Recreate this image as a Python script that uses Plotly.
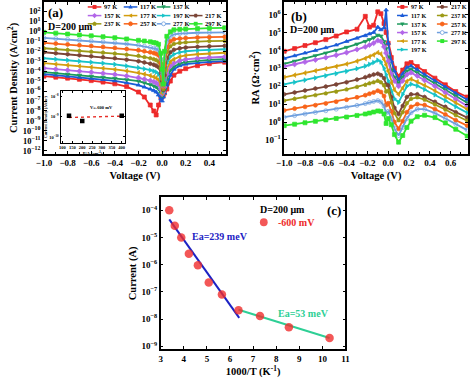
import plotly.graph_objects as go

W, H = 474, 379
FONT = "Liberation Serif"

# ---------------- data ----------------
temps = ["97 K", "117 K", "137 K", "157 K", "177 K", "197 K",
         "217 K", "237 K", "257 K", "277 K", "297 K"]
colors = ["#ee2a2a", "#1a5bd8", "#1d9a5c", "#b266e8", "#d39d0e", "#17c3c8",
          "#7b4537", "#9c9a16", "#f8641a", "#6e9fde", "#2fe62f"]
symbols = ["square", "triangle-up", "triangle-down", "diamond", "triangle-left",
           "triangle-right", "hexagon", "pentagon", "circle", "circle-open", "square"]

# (a) current density vs voltage, log10(J [A/cm2])
volt_a = [-1.0, -0.9, -0.8, -0.7, -0.6, -0.5, -0.4, -0.3, -0.2, -0.15, -0.1, -0.07, -0.05,
          -0.03, -0.01, 0.0, 0.01, 0.02, 0.04, 0.07, 0.1, 0.15, 0.2, 0.3, 0.4, 0.53]
logj_97 = [-4.50, -4.60, -4.70, -4.82, -4.95, -5.10, -5.27, -5.55, -6.10, -6.60, -7.40, -8.00, -8.40,
           -7.40, -6.6, -6.6, -6.4, -6.2, -5.8, -5.0, -4.40, -4.00, -3.75, -3.45, -3.25, -3.10]
logj_117 = [-4.30, -4.40, -4.50, -4.61, -4.72, -4.84, -4.97, -5.17, -5.40, -5.60, -5.80, -5.95, -6.10,
            -6.40, -6.8, -7.0, -6.6, -6.2, -5.4, -4.4, -3.80, -3.45, -3.30, -3.15, -3.07, -3.00]
logj_137 = [-4.10, -4.20, -4.30, -4.40, -4.50, -4.60, -4.71, -4.85, -5.00, -5.17, -5.35, -5.48, -5.60,
            -5.80, -6.2, -6.5, -6.3, -5.9, -4.8, -3.9, -3.55, -3.25, -3.10, -2.95, -2.87, -2.80]
logj_157 = [-3.70, -3.80, -3.90, -4.00, -4.10, -4.21, -4.33, -4.48, -4.65, -4.80, -4.95, -5.07, -5.18,
            -5.35, -5.8, -6.3, -6.1, -5.6, -4.3, -3.5, -3.20, -2.95, -2.82, -2.70, -2.62, -2.55]
logj_177 = [-3.20, -3.30, -3.40, -3.50, -3.60, -3.71, -3.83, -3.98, -4.15, -4.30, -4.45, -4.57, -4.68,
            -4.85, -5.4, -6.2, -5.9, -5.2, -3.8, -3.05, -2.80, -2.55, -2.42, -2.30, -2.22, -2.15]
logj_197 = [-2.70, -2.80, -2.90, -3.00, -3.10, -3.20, -3.32, -3.48, -3.65, -3.77, -3.90, -4.00, -4.10,
            -4.30, -4.8, -5.4, -6.0, -4.9, -3.2, -2.55, -2.30, -2.10, -2.00, -1.92, -1.86, -1.80]
logj_217 = [-2.10, -2.20, -2.30, -2.40, -2.50, -2.60, -2.70, -2.85, -3.00, -3.12, -3.25, -3.35, -3.45,
            -3.60, -4.2, -5.0, -5.9, -4.4, -2.7, -2.1, -1.85, -1.70, -1.62, -1.55, -1.50, -1.45]
logj_237 = [-1.70, -1.78, -1.86, -1.95, -2.04, -2.13, -2.23, -2.34, -2.45, -2.58, -2.70, -2.80, -2.88,
            -3.05, -3.7, -4.8, -5.8, -3.9, -2.1, -1.5, -1.25, -1.15, -1.10, -1.03, -0.98, -0.95]
logj_257 = [-1.15, -1.23, -1.31, -1.39, -1.47, -1.56, -1.66, -1.78, -1.90, -2.00, -2.10, -2.18, -2.26,
            -2.40, -3.2, -4.5, -5.6, -3.4, -1.6, -1.0, -0.80, -0.72, -0.67, -0.62, -0.58, -0.55]
logj_277 = [-0.65, -0.73, -0.81, -0.89, -0.97, -1.06, -1.15, -1.27, -1.40, -1.50, -1.60, -1.68, -1.75,
            -1.90, -2.8, -4.2, -5.5, -2.8, -1.0, -0.5, -0.30, -0.22, -0.18, -0.14, -0.12, -0.10]
logj_297 = [-0.10, -0.18, -0.27, -0.36, -0.45, -0.54, -0.64, -0.76, -0.90, -0.97, -1.05, -1.12, -1.18,
            -1.30, -2.2, -3.8, -5.3, -2.0, -0.5, -0.05, 0.15, 0.20, 0.24, 0.28, 0.32, 0.35]

# (a) inset: current density at -600 mV vs P/A
inset_pa = [133, 200, 400]
inset_j = [1.1e-9, 6.0e-10, 1.1e-9]
inset_fit_pa = [133, 400]
inset_fit_j = [9.0e-10, 1.05e-9]

# (b) RA vs voltage, log10(RA [Ohm cm2])
volt_b = [-1.0, -0.9, -0.8, -0.7, -0.6, -0.5, -0.4, -0.3, -0.22, -0.18, -0.14, -0.1, -0.07, -0.04,
          -0.02, 0.0, 0.03, 0.06, 0.1, 0.14, 0.18, 0.22, 0.28, 0.35, 0.45, 0.55, 0.65, 0.76]
logra_97 = [3.95, 4.10, 4.27, 4.43, 4.60, 4.80, 5.03, 5.18, 5.90, 5.30, 5.40, 6.15, 6.05, 5.50,
            5.00, 4.40, 3.60, 3.00, 2.55, 2.90, 3.25, 3.32, 3.10, 2.82, 2.45, 2.08, 1.70, 1.40]
logra_117 = [3.55, 3.70, 3.85, 4.00, 4.15, 4.30, 4.50, 4.68, 4.82, 4.92, 5.00, 5.30, 5.15, 5.25,
             6.25, 4.40, 3.40, 2.85, 2.35, 2.70, 3.05, 3.13, 2.93, 2.65, 2.30, 1.95, 1.60, 1.25]
logra_137 = [3.25, 3.40, 3.55, 3.70, 3.85, 4.00, 4.17, 4.35, 4.50, 4.60, 4.70, 4.85, 4.80, 4.50,
             4.10, 3.60, 2.90, 2.50, 2.17, 2.50, 2.85, 2.95, 2.76, 2.50, 2.15, 1.80, 1.45, 1.08]
logra_157 = [3.10, 3.22, 3.35, 3.47, 3.60, 3.73, 3.88, 4.05, 4.20, 4.30, 4.40, 4.55, 4.50, 4.20,
             3.85, 3.40, 2.70, 2.30, 2.00, 2.30, 2.65, 2.76, 2.58, 2.33, 2.00, 1.65, 1.28, 0.90]
logra_177 = [2.50, 2.62, 2.74, 2.86, 2.98, 3.10, 3.24, 3.40, 3.55, 3.65, 3.75, 3.88, 3.80, 3.50,
             3.20, 2.85, 2.20, 1.80, 1.55, 1.90, 2.28, 2.40, 2.25, 2.05, 1.75, 1.42, 1.08, 0.72]
logra_197 = [2.10, 2.22, 2.34, 2.46, 2.58, 2.70, 2.83, 2.98, 3.12, 3.22, 3.32, 3.45, 3.35, 3.00,
             2.65, 2.30, 1.70, 1.30, 1.10, 1.55, 2.00, 2.12, 2.02, 1.82, 1.52, 1.20, 0.86, 0.52]
logra_217 = [1.55, 1.65, 1.76, 1.87, 1.98, 2.10, 2.22, 2.37, 2.50, 2.58, 2.65, 2.70, 2.62, 2.45,
             2.10, 2.05, 1.40, 0.80, 0.45, 0.90, 1.40, 1.55, 1.55, 1.40, 1.13, 0.85, 0.55, 0.25]
logra_237 = [1.20, 1.30, 1.40, 1.50, 1.60, 1.70, 1.82, 1.96, 2.08, 2.16, 2.22, 2.30, 2.22, 2.05,
             1.70, 1.75, 1.10, 0.50, 0.10, 0.55, 1.05, 1.30, 1.38, 1.25, 0.98, 0.70, 0.38, 0.07]
logra_257 = [0.65, 0.75, 0.85, 0.94, 1.04, 1.14, 1.25, 1.38, 1.50, 1.58, 1.65, 1.75, 1.68, 1.45,
             0.95, 1.05, 0.60, 0.00, -0.38, 0.05, 0.55, 0.85, 1.00, 0.95, 0.72, 0.42, 0.10, -0.20]
logra_277 = [0.27, 0.36, 0.45, 0.54, 0.63, 0.72, 0.82, 0.93, 1.03, 1.10, 1.15, 1.20, 1.12, 0.90,
             0.50, 0.60, 0.20, -0.35, -0.75, -0.30, 0.20, 0.52, 0.72, 0.72, 0.50, 0.20, -0.12, -0.45]
logra_297 = [-0.20, -0.12, -0.04, 0.04, 0.12, 0.20, 0.28, 0.37, 0.45, 0.50, 0.56, 0.62, 0.60, 0.45,
             -0.08, 0.20, -0.15, -0.70, -1.12, -0.75, -0.30, 0.05, 0.30, 0.38, 0.25, -0.05, -0.40, -0.78]

# (c) Arrhenius plot at -600 mV
inv_t = [3.37, 3.61, 3.89, 4.22, 4.61, 5.08, 5.65, 6.37, 7.30, 8.55, 10.31]
current_c = [1.0e-4, 2.7e-5, 1.0e-5, 2.5e-6, 9.5e-7, 2.2e-7, 8.0e-8, 2.1e-8, 1.3e-8, 5.0e-9, 2.0e-9]
fit_hi_x = [3.37, 6.40]
fit_hi_y = [4.6e-5, 1.1e-8]
fit_lo_x = [6.37, 10.31]
fit_lo_y = [2.2e-8, 2.0e-9]

# tick labels
a_y_exp = list(range(-12, 3))
b_y_exp = list(range(-1, 7))
c_y_exp = list(range(-9, -3))
inset_y_exp = [-10, -9, -8]


def pow_labels(exps):
    return ["10<sup>%s</sup>" % (str(p).replace("-", "\u2212")) for p in exps]


logj_a = [logj_97, logj_117, logj_137, logj_157, logj_177, logj_197,
          logj_217, logj_237, logj_257, logj_277, logj_297]
logra_b = [logra_97, logra_117, logra_137, logra_157, logra_177, logra_197,
           logra_217, logra_237, logra_257, logra_277, logra_297]

fig = go.Figure()

for i, name in enumerate(temps):
    fig.add_trace(go.Scatter(
        x=volt_a, y=[10 ** v for v in logj_a[i]], mode="lines+markers", name=name,
        line=dict(color=colors[i], width=1.8),
        marker=dict(symbol=symbols[i], size=4, color=colors[i], line=dict(width=0.7, color=colors[i])),
        xaxis="x", yaxis="y", showlegend=False))

for i, name in enumerate(temps):
    fig.add_trace(go.Scatter(
        x=volt_b, y=[10 ** v for v in logra_b[i]], mode="lines+markers", name=name,
        line=dict(color=colors[i], width=1.8),
        marker=dict(symbol=symbols[i], size=4, color=colors[i], line=dict(width=0.7, color=colors[i])),
        xaxis="x2", yaxis="y2", showlegend=False))

fig.add_trace(go.Scatter(x=fit_hi_x, y=fit_hi_y, mode="lines", line=dict(color="#1c22c4", width=2),
                         xaxis="x3", yaxis="y3", showlegend=False))
fig.add_trace(go.Scatter(x=fit_lo_x, y=fit_lo_y, mode="lines", line=dict(color="#2ecf95", width=2),
                         xaxis="x3", yaxis="y3", showlegend=False))
fig.add_trace(go.Scatter(x=inv_t, y=current_c, mode="markers", name="-600 mV",
                         marker=dict(symbol="circle", size=8.5, color="rgba(240,45,45,0.8)"),
                         xaxis="x3", yaxis="y3", showlegend=False))

fig.add_trace(go.Scatter(x=inset_fit_pa, y=inset_fit_j, mode="lines",
                         line=dict(color="#e8302a", width=1.4, dash="dot"),
                         xaxis="x4", yaxis="y4", showlegend=False))
fig.add_trace(go.Scatter(x=inset_pa, y=inset_j, mode="markers",
                         marker=dict(symbol="square", size=4.5, color="black"),
                         xaxis="x4", yaxis="y4", showlegend=False))


def axis(**kw):
    d = dict(showline=True, linecolor="black", linewidth=1.5, mirror="ticks", ticks="inside",
             ticklen=3, tickwidth=1, tickcolor="black", showgrid=False, zeroline=False,
             tickfont=dict(family=FONT, size=9, color="black", weight="bold"))
    d.update(kw)
    return d


def ttl(text, size=10.5, standoff=4):
    return dict(text=text, font=dict(family=FONT, size=size, color="black", weight="bold"),
                standoff=standoff)


def px(xp):
    return xp / W


def py(yp):
    return 1 - yp / H


fig.update_layout(
    width=W, height=H, margin=dict(l=0, r=0, t=0, b=0),
    paper_bgcolor="white", plot_bgcolor="white", showlegend=False,
    font=dict(family=FONT, color="black"),
    xaxis=axis(domain=[px(37), px(224)], anchor="y", range=[-1.0, 0.54], tickvals=[-1.0, -0.8, -0.6, -0.4, -0.2, 0.0, 0.2, 0.4],
               tickformat=".1f", minor=dict(ticks="inside", ticklen=2, dtick=0.1),
               title=ttl("Voltage (V)")),
    yaxis=axis(domain=[py(154), py(1)], anchor="x", type="log", range=[-12.3, 2.95],
               tickvals=[10 ** p for p in a_y_exp], ticktext=pow_labels(a_y_exp),
               tickfont=dict(family=FONT, size=8.5, color="black", weight="bold"),
               title=ttl("Current Density (A/cm<sup>2</sup>)", standoff=3)),
    xaxis2=axis(domain=[px(284), px(473)], anchor="y2", range=[-1.0, 0.768],
                tickvals=[-1.0, -0.8, -0.6, -0.4, -0.2, 0.0, 0.2, 0.4, 0.6], tickformat=".1f",
                minor=dict(ticks="inside", ticklen=2, dtick=0.1), title=ttl("Voltage (V)")),
    yaxis2=axis(domain=[py(154), py(1)], anchor="x2", type="log", range=[-1.77, 6.7],
                tickvals=[10 ** p for p in b_y_exp], ticktext=pow_labels(b_y_exp),
                title=ttl("RA (\u03a9\u00b7cm<sup>2</sup>)", standoff=3)),
    xaxis3=axis(domain=[px(157), px(347)], anchor="y3", range=[3, 11], dtick=1,
                title=ttl("1000/T (K<sup>-1</sup>)")),
    yaxis3=axis(domain=[py(351), py(198)], anchor="x3", type="log", range=[-9.11, -3.53],
                tickvals=[10 ** p for p in c_y_exp], ticktext=pow_labels(c_y_exp),
                title=ttl("Current (A)", standoff=3)),
    xaxis4=axis(domain=[px(54), px(120)], anchor="y4", range=[90, 415], tickvals=[100, 150, 200, 250, 300, 350, 400],
                ticklen=1.5, linewidth=1, tickfont=dict(family=FONT, size=4.5, color="black", weight="bold"),
                title=ttl("P/A (cm<sup>-1</sup>)", size=4.5, standoff=1)),
    yaxis4=axis(domain=[py(143), py(91)], anchor="x4", type="log", range=[-10.29, -7.76],
                tickvals=[10 ** p for p in inset_y_exp], ticktext=pow_labels(inset_y_exp),
                ticklen=1.5, linewidth=1, tickfont=dict(family=FONT, size=4.5, color="black", weight="bold"),
                title=ttl("Current Density (A/cm<sup>2</sup>)", size=4, standoff=1)),
)

annotations = []
shapes = []


def add_text(text, xp, yp, size, color="black", xanchor="left"):
    annotations.append(dict(text=text, x=px(xp), y=py(yp), xref="paper", yref="paper",
                            xanchor=xanchor, yanchor="middle", showarrow=False,
                            font=dict(family=FONT, size=size, color=color, weight="bold")))


def key_marker(sym, xc, yc, color, r=2.0):
    dx, dy = r / W, r / H
    if sym == "square":
        shapes.append(dict(type="rect", xref="paper", yref="paper", x0=xc - dx, x1=xc + dx,
                           y0=yc - dy, y1=yc + dy, fillcolor=color, line=dict(width=0)))
        return
    if sym.startswith("circle"):
        fill = "white" if sym.endswith("open") else color
        shapes.append(dict(type="circle", xref="paper", yref="paper", x0=xc - dx, x1=xc + dx,
                           y0=yc - dy, y1=yc + dy, fillcolor=fill, line=dict(width=0.8, color=color)))
        return
    pts = {
        "triangle-up": [(0, 1.2), (-1.1, -0.8), (1.1, -0.8)],
        "triangle-down": [(0, -1.2), (-1.1, 0.8), (1.1, 0.8)],
        "diamond": [(0, 1.3), (1.3, 0), (0, -1.3), (-1.3, 0)],
        "triangle-left": [(-1.2, 0), (0.8, 1.1), (0.8, -1.1)],
        "triangle-right": [(1.2, 0), (-0.8, 1.1), (-0.8, -1.1)],
        "hexagon": [(1.1, 0), (0.55, 0.95), (-0.55, 0.95), (-1.1, 0), (-0.55, -0.95), (0.55, -0.95)],
        "pentagon": [(0, 1.15), (1.1, 0.35), (0.7, -0.95), (-0.7, -0.95), (-1.1, 0.35)],
    }[sym]
    path = "M " + " L ".join("%.5f,%.5f" % (xc + a * dx, yc + b * dy) for a, b in pts) + " Z"
    shapes.append(dict(type="path", xref="paper", yref="paper", path=path,
                       fillcolor=color, line=dict(width=0)))


def legend_entry(i, xs, ys, length=14, size=6.5):
    x0, x1 = px(xs), px(xs + length)
    y = py(ys)
    shapes.append(dict(type="line", xref="paper", yref="paper", x0=x0, x1=x1, y0=y, y1=y,
                       line=dict(color=colors[i], width=1.5)))
    key_marker(symbols[i], (x0 + x1) / 2, y, colors[i])
    add_text(temps[i], xs + length + 1, ys, size)


# legend (a): 3 rows, up to 4 columns
a_cols = [82, 119, 153, 186]
a_rows = [6, 14.7, 23]
a_layout = [(0, 0, 0), (1, 0, 1), (2, 0, 2),
            (3, 1, 0), (4, 1, 1), (5, 1, 2), (6, 1, 3),
            (7, 2, 0), (8, 2, 1), (9, 2, 2), (10, 2, 3)]
for i, r, c in a_layout:
    legend_entry(i, a_cols[c], a_rows[r])

# legend (b): 2 columns
b_cols = [400, 441]
b_rows = [6, 14.6, 23.2, 31.8, 40.4, 49]
for i in range(11):
    c = 0 if i < 6 else 1
    r = i if i < 6 else i - 6
    legend_entry(i, b_cols[c], b_rows[r], length=11, size=6.2)

# panel labels and notes
add_text("(a)", 39, 12, 13)
add_text("D=200 \u03bcm", 39, 25.5, 10)
add_text("(b)", 289, 16, 13)
add_text("D=200 \u03bcm", 288, 29, 10)
add_text("(c)", 326, 211, 13)
add_text("D=200 \u03bcm", 257, 210, 10)
add_text("-600 mV", 276, 223, 10, color="#ee2a2a")
shapes.append(dict(type="circle", xref="paper", yref="paper",
                   x0=px(263 - 4), x1=px(263 + 4), y0=py(223 + 4), y1=py(223 - 4),
                   fillcolor="rgba(240,45,45,0.8)", line=dict(width=0)))
add_text("Ea=239 meV", 187, 237, 10, color="#1c22c4")
add_text("Ea=53 meV", 276, 315, 10, color="#2ecf95")
add_text("V=-600 mV", 82, 107, 4.5)

fig.update_layout(annotations=annotations, shapes=shapes)

fig.write_html("out.html", config={"displayModeBar": False},
               post_script="document.body.style.margin='0px';document.body.style.overflow='hidden';")
